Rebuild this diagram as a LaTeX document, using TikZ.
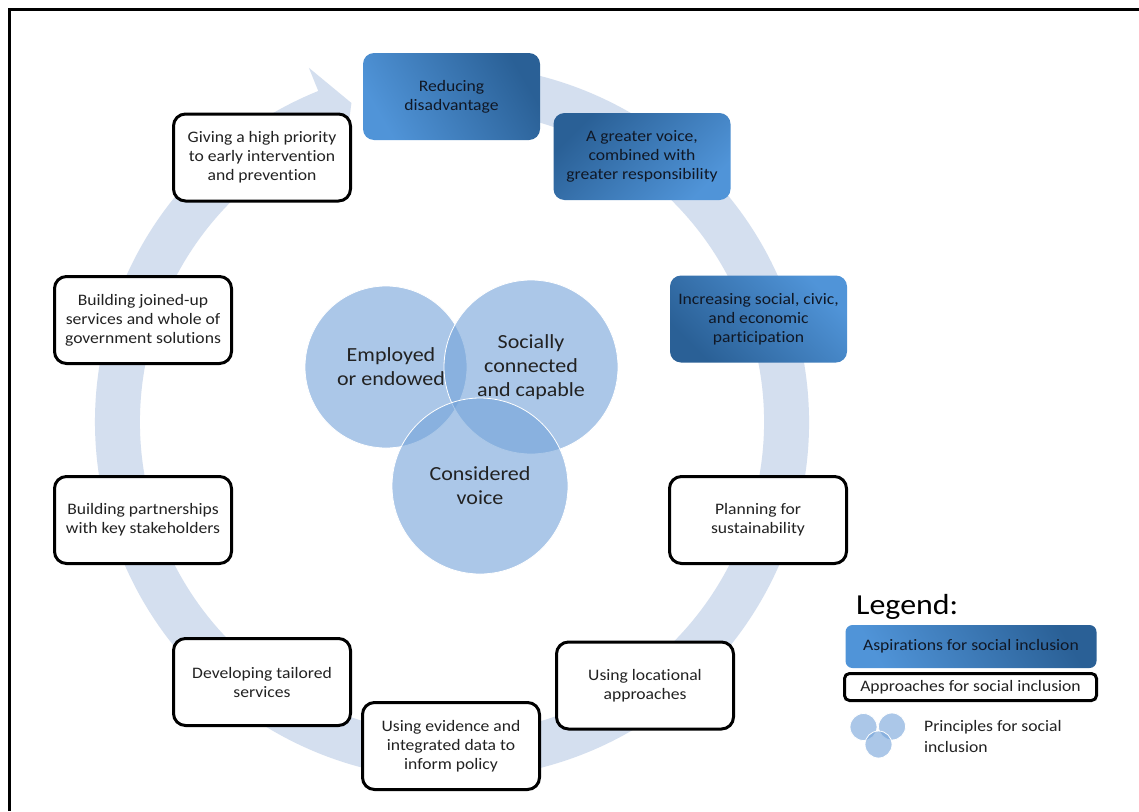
\documentclass[tikz,border=0pt]{standalone}
\usepackage{fontspec}
\setmainfont{Carlito}[FakeStretch=1.1, Ligatures=NoCommon]

\definecolor{ringblue}{RGB}{212,223,239}
\definecolor{discblue}{RGB}{115,163,217}
\definecolor{aspdark}{RGB}{42,96,150}
\definecolor{asplight}{RGB}{80,148,216}
\definecolor{inktext}{RGB}{34,34,34}
\definecolor{asptext}{RGB}{16,24,38}

\newcommand{\boxfont}{\fontsize{16}{19}\selectfont}
\newcommand{\discfont}{\fontsize{20}{24}\selectfont}

\tikzset{
  approach/.style={draw=black, line width=3pt, rounded corners=12pt, fill=white,
    minimum width=177pt, minimum height=87pt, inner sep=0pt,
    align=center, font=\boxfont, text=inktext},
  aspiration/.style={rounded corners=11pt, top color=aspdark, bottom color=asplight,
    minimum width=177pt, minimum height=87pt, inner sep=0pt,
    align=center, font=\boxfont, text=asptext},
  principle/.style={circle, fill=discblue, fill opacity=0.6, text opacity=1,
    draw=white, line width=0.8pt, inner sep=0pt,
    align=center, font=\discfont, text=inktext},
}

\begin{document}
\begin{tikzpicture}[x=1pt, y=-1pt]
  \useasboundingbox (0,0) rectangle (1139,811);
  \fill[white] (0,0) rectangle (1139,811);

  % frame along the top and left edges
  \draw[line width=3pt] (9,811) -- (9,9) -- (1139,9);

  % circular arrow running clockwise round the approaches
  \begin{scope}[shift={(452,422)}, yscale=-1]
    \fill[ringblue]
      (100:357) arc[start angle=100, end angle=-248, radius=357]
      -- (112:382) -- (107.5:334.5) -- (112:287) -- (112:312)
      arc[start angle=-248, end angle=100, radius=312] -- cycle;
  \end{scope}

  % overlapping principles
  \node[principle, minimum size=162pt] (employed) at (386,367) {\hspace*{10pt}Employed\\\hspace*{10pt}or endowed};
  \node[principle, minimum size=174pt] (social) at (531,367) {Socially\\connected\\and capable};
  \node[principle, minimum size=176pt] (voice) at (480,486) {Considered\\voice};

  % aspirations
  \node[aspiration, shading angle=-60] (reduce) at (451.5,96.5) {Reducing\\disadvantage};
  \node[aspiration, shading angle=45] (greater) at (642,156.5) {A greater voice,\\combined with\\greater responsibility};
  \node[aspiration, shading angle=135] (increase) at (758.5,319) {Increasing social, civic,\\and economic\\participation};

  % approaches
  \node[approach] (early) at (262,157.5) {Giving a high priority\\to early intervention\\and prevention};
  \node[approach] (joined) at (143,320) {Building joined-up\\services and whole of\\government solutions};
  \node[approach] (partner) at (143,520) {Building partnerships\\with key stakeholders};
  \node[approach] (tailored) at (262,682) {Developing tailored\\services};
  \node[approach] (evidence) at (451,746) {Using evidence and\\integrated data to\\inform policy};
  \node[approach] (location) at (645,685.5) {Using locational\\approaches};
  \node[approach] (sustain) at (758,520) {Planning for\\sustainability};

  % legend
  \node[anchor=west, font=\fontsize{29}{31}\selectfont, inner sep=0pt] (legtitle) at (856,607) {Legend:};
  \node[aspiration, shading angle=-60, rounded corners=7pt, minimum width=251pt, minimum height=43pt,
        font=\fontsize{16}{18}\selectfont] (legasp) at (971,646.5) {Aspirations for social inclusion};
  \node[approach, rounded corners=5pt, minimum width=252pt, minimum height=27pt,
        font=\fontsize{16}{18}\selectfont] (legapp) at (970.5,687) {Approaches for social inclusion};
  \node[principle, minimum size=27pt] (legdiscA) at (863.5,727) {};
  \node[principle, minimum size=27pt] (legdiscB) at (892,726.5) {};
  \node[principle, minimum size=27pt] (legdiscC) at (878.5,744.5) {};
  \node[anchor=west, align=left, font=\fontsize{16}{21}\selectfont, text=inktext, inner sep=0pt]
        (legprin) at (924,736) {Principles for social\\inclusion};
\end{tikzpicture}
\end{document}
